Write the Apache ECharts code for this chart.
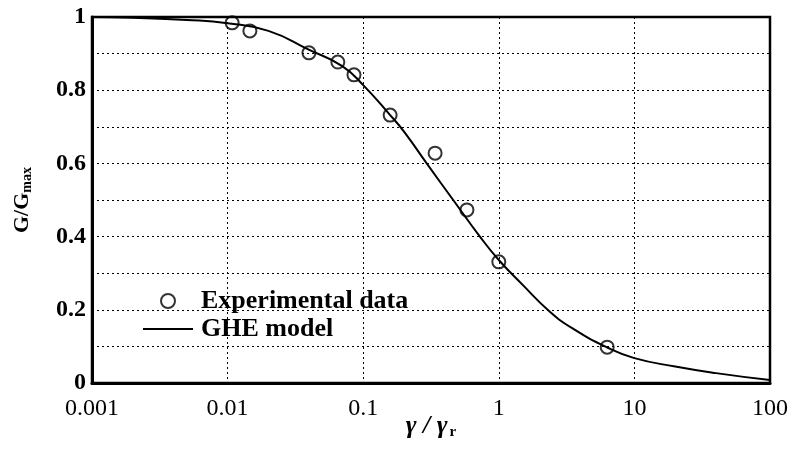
<!DOCTYPE html>
<html><head><meta charset="utf-8">
<script src="https://cdn.jsdelivr.net/npm/echarts@6/dist/echarts.min.js"></script>
<style>html,body{margin:0;padding:0;background:#fff}#c{width:793px;height:453px}</style>
</head><body><div id="c"></div>
<script>
const expX = [0.0108, 0.0146, 0.0398, 0.065, 0.0855, 0.158, 0.339, 0.582, 1.0, 6.3];
const expY = [0.984, 0.962, 0.902, 0.877, 0.842, 0.732, 0.628, 0.473, 0.331, 0.098];
const modelX = [0.001, 0.002, 0.005, 0.01, 0.02, 0.04, 0.07, 0.1, 0.158, 0.2, 0.294, 0.461, 0.726, 1.0, 1.5, 2.38, 3.5, 6.3, 10, 20, 40, 100];
const modelY = [1.000, 0.998, 0.992, 0.983, 0.962, 0.910, 0.866, 0.814, 0.732, 0.687, 0.600, 0.500, 0.400, 0.336, 0.268, 0.195, 0.149, 0.097, 0.068, 0.045, 0.027, 0.008];
const xTicks = ['0.001', '0.01', '0.1', '1', '10', '100'];
const yTicks = ['0', '0.2', '0.4', '0.6', '0.8', '1'];

const chart = echarts.init(document.getElementById('c'));
const font = 'Liberation Serif';
chart.setOption({
  animation: false,
  grid: {left: 92, right: 23, top: 17, bottom: 70, show: true, borderColor: '#000', borderWidth: 2.5,
         containLabel: false, outerBoundsMode: 'none'},
  legend: {
    left: 137, top: 283, orient: 'vertical', itemGap: 2, itemWidth: 50, itemHeight: 14,
    textStyle: {fontFamily: font, fontWeight: 'bold', fontSize: 26, color: '#000', padding: [0, 0, 0, 3]},
    data: [{name: 'Experimental data', icon: 'circle', itemStyle: {color: '#fff', borderColor: '#000', borderWidth: 2}},
           {name: 'GHE model', itemStyle: {opacity: 0}}]
  },
  xAxis: {
    type: 'log', logBase: 10, min: 0.001, max: 100,
    name: '{a|γ / γ}{s|r}', nameLocation: 'middle', nameGap: 30, nameMoveOverlap: false,
    nameTextStyle: {rich: {
      a: {fontFamily: font, fontStyle: 'italic', fontWeight: 'bold', fontSize: 26, color: '#000'},
      s: {fontFamily: font, fontWeight: 'bold', fontSize: 15, color: '#000', verticalAlign: 'bottom', padding: [12, 0, 0, 2]}}},
    axisLine: {lineStyle: {color: '#000', width: 3}},
    axisTick: {show: false},
    minorTick: {show: false},
    axisLabel: {fontFamily: font, fontSize: 24, color: '#000', margin: 14,
      formatter: v => { const i = Math.round(Math.log10(v)) + 3; return xTicks[i] || ''; }},
    splitLine: {show: true, lineStyle: {color: '#000', type: [2, 3], width: 1}}
  },
  yAxis: {
    type: 'value', min: 0, max: 1, interval: 0.1,
    name: '{a|G/G}{s|max}', nameLocation: 'middle', nameGap: 58, nameRotate: 90, nameMoveOverlap: false,
    nameTextStyle: {rich: {
      a: {fontFamily: font, fontWeight: 'bold', fontSize: 22, color: '#000'},
      s: {fontFamily: font, fontWeight: 'bold', fontSize: 14, color: '#000', padding: [9, 0, 0, 0]}}},
    axisLine: {show: true, lineStyle: {color: '#000', width: 3}},
    axisTick: {show: false},
    axisLabel: {fontFamily: font, fontWeight: 'bold', fontSize: 24, color: '#000', margin: 6,
      formatter: v => { const k = Math.round(v * 10); return k % 2 === 0 ? yTicks[k / 2] : ''; }},
    splitLine: {show: true, lineStyle: {color: '#000', type: [2, 3], width: 1}}
  },
  series: [
    {name: 'Experimental data', type: 'scatter', symbol: 'circle', symbolSize: 13,
     itemStyle: {color: 'rgba(255,255,255,0)', borderColor: '#000', borderWidth: 2},
     data: expX.map((x, i) => [x, expY[i]]), z: 3},
    {name: 'GHE model', type: 'line', smooth: 0.5, showSymbol: false, symbol: 'none',
     lineStyle: {color: '#000', width: 2}, itemStyle: {color: '#000'},
     data: modelX.map((x, i) => [x, modelY[i]]), z: 2}
  ]
});
</script></body></html>
